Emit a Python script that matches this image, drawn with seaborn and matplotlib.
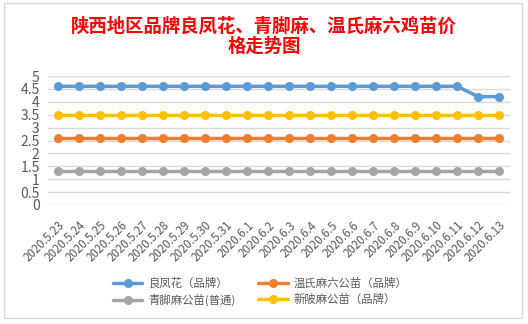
import matplotlib
matplotlib.use("Agg")
import matplotlib.pyplot as plt
import seaborn as sns
import pandas as pd
from matplotlib.patches import Rectangle

dates = ["2020.5.23", "2020.5.24", "2020.5.25", "2020.5.26", "2020.5.27", "2020.5.28",
         "2020.5.29", "2020.5.30", "2020.5.31", "2020.6.1", "2020.6.2", "2020.6.3",
         "2020.6.4", "2020.6.5", "2020.6.6", "2020.6.7", "2020.6.8", "2020.6.9",
         "2020.6.10", "2020.6.11", "2020.6.12", "2020.6.13"]
series_names = ["良凤花（品牌）", "温氏麻六公苗（品牌）", "青脚麻公苗(普通)", "新陂麻公苗（品牌）"]
liangfenghua = [4.6] * 20 + [4.2, 4.2]
wenshi = [2.6] * 22
qingjiaoma = [1.3] * 22
xinpo = [3.5] * 22
colors = ["#5B9BD5", "#ED7D31", "#A5A5A5", "#FFC000"]
yticks = [0, 0.5, 1, 1.5, 2, 2.5, 3, 3.5, 4, 4.5, 5]
ytick_labels = ["0", "0.5", "1", "1.5", "2", "2.5", "3", "3.5", "4", "4.5", "5"]
title = "陕西地区品牌良凤花、青脚麻、温氏麻六鸡苗价\n格走势图"

rows = []
for name, vals in zip(series_names, [liangfenghua, wenshi, qingjiaoma, xinpo]):
    for i, (d, v) in enumerate(zip(dates, vals)):
        rows.append({"idx": i, "date": d, "series": name, "value": v})
df = pd.DataFrame(rows)

sns.set_theme(style="white")
plt.rcParams['font.family'] = ['Noto Sans CJK SC', 'DejaVu Sans']

W, H = 528, 324
fig = plt.figure(figsize=(W / 100, H / 100), dpi=100)
fig.patch.set_facecolor("white")
fig.patches.append(Rectangle((4 / W, 1 - 318 / H), 518 / W, 315 / H, transform=fig.transFigure,
                             fill=False, edgecolor="#D9D9D9", linewidth=1))

ax = fig.add_axes([48 / W, 1 - 205 / H, 462 / W, 129 / H])
sns.lineplot(data=df, x="idx", y="value", hue="series", hue_order=series_names,
             palette=colors, marker="o", markersize=6.5, markeredgewidth=0,
             linewidth=2.5, ax=ax, legend=True)
ax.set_xlim(-0.48, 21.52)
ax.set_ylim(0, 5)
ax.set_yticks(yticks)
ax.set_yticklabels(ytick_labels)
ax.set_xticks(range(len(dates)))
ax.set_xticklabels(dates, rotation=45, ha="right", rotation_mode="anchor")
ax.grid(axis="y", color="#D9D9D9", linewidth=1)
ax.set_axisbelow(True)
for s in ax.spines.values():
    s.set_visible(False)
ax.tick_params(axis="y", length=0, pad=6, labelsize=10, labelcolor="#595959")
ax.tick_params(axis="x", length=0, pad=10, labelsize=8.3, labelcolor="#595959")
ax.set_xlabel("")
ax.set_ylabel("")

handles, labels = ax.get_legend_handles_labels()
lab2h = dict(zip(labels, handles))
order = [series_names[0], series_names[2], series_names[1], series_names[3]]
ax.legend([lab2h[l] for l in order], order, ncol=2, loc="center",
          bbox_to_anchor=(260 / W, 1 - 292 / H), bbox_transform=fig.transFigure,
          frameon=False, fontsize=8.2, labelcolor="#595959", columnspacing=2.0,
          handlelength=2.6, handletextpad=0.5, labelspacing=0.45)

fig.text(0.5, 1 - 36 / H, title, ha="center", va="center", color="#FF0000",
         fontsize=13.2, fontweight="bold", linespacing=1.05)

fig.savefig("out.png", dpi=100)
